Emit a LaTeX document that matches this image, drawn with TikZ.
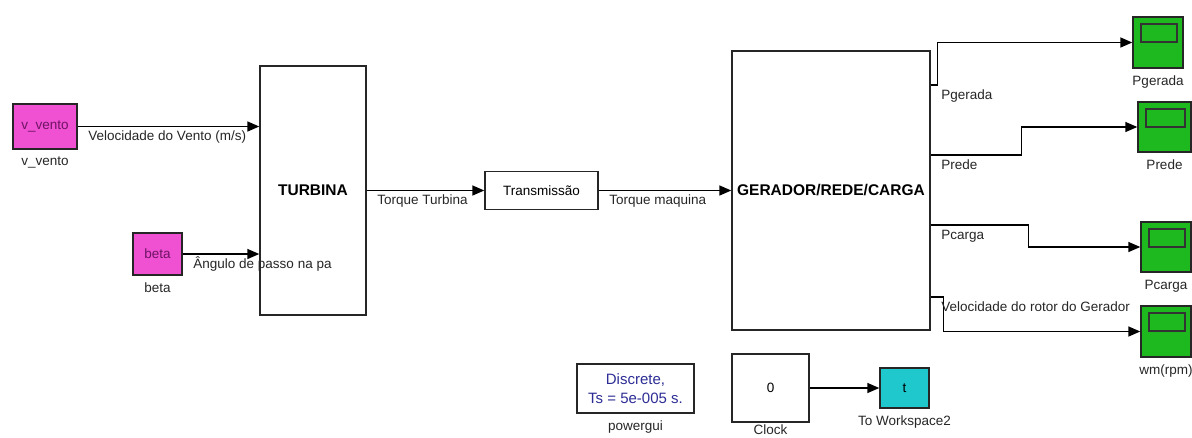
\documentclass[tikz,border=0pt]{standalone}
\usepackage{fontspec}
\setmainfont{Liberation Sans}
\usetikzlibrary{arrows.meta}
\definecolor{srcpink}{RGB}{240,80,210}
\definecolor{srcdark}{RGB}{110,20,100}
\definecolor{scopegreen}{RGB}{30,185,30}
\definecolor{wscyan}{RGB}{30,200,205}
\definecolor{guiblue}{RGB}{45,45,150}
\tikzset{
  blk/.style={draw=black!85, line width=1.4pt, fill=white, inner sep=0pt, font=\fontsize{13.5}{16}\selectfont},
  big/.style={blk, font=\bfseries\fontsize{15.5}{18}\selectfont},
  src/.style={blk, fill=srcpink, text=srcdark},
  scope/.style={blk, fill=scopegreen, minimum width=50pt, minimum height=51pt,
    path picture={\draw[line width=1.2pt, black!80]
      ([xshift=8pt,yshift=-7pt]path picture bounding box.north west) rectangle
      ([xshift=-6pt,yshift=-25pt]path picture bounding box.north east);}},
  lbl/.style={font=\fontsize{13.5}{15}\selectfont, inner sep=0pt, text=black!85},
  btm/.style={label={[lbl, label distance=7pt]below:#1}},
  elbl/.style={lbl, pos=0, anchor=base west, xshift=10pt, yshift=-14pt},
  sig/.style={draw=black, line width=1.5pt, -{Triangle[length=12pt,width=10pt]}}
}
\begin{document}
\begin{tikzpicture}[x=1pt, y=-1pt]
  \useasboundingbox (0,0) rectangle (1192,437);
  \clip (0,0) rectangle (1192,437);

  % sources and turbine
  \node[src, minimum width=64pt, minimum height=45pt, btm={v\_vento}] (vvento) at (45,126.5) {v\_vento};
  \node[src, minimum width=49pt, minimum height=42pt, btm={beta}] (beta) at (157.5,254) {beta};
  \node[big, minimum width=106pt, minimum height=249pt] (turbina) at (313,190.5) {TURBINA};
  \node[blk, minimum width=113pt, minimum height=38pt] (trans) at (541.5,190.5) {Transmissão};
  \node[big, minimum width=198pt, minimum height=279pt] (gerador) at (831,190.5) {GERADOR/REDE/CARGA};

  % scopes
  \node[scope, btm={Pgerada}] (pgerada) at (1158,42.5) {};
  \node[scope, minimum width=53pt, minimum height=50pt, btm={Prede}] (prede) at (1164.5,127) {};
  \node[scope, minimum height=50pt, btm={Pcarga}] (pcarga) at (1166,247) {};
  \node[scope, btm={wm(rpm)}] (wm) at (1166,331.5) {};

  % bottom row
  \node[blk, minimum width=117pt, minimum height=49pt, align=center, text=guiblue,
    font=\fontsize{15}{19}\selectfont, btm={powergui}] (powergui) at (635.5,388.5) {Discrete,\\Ts = 5e-005 s.};
  \node[blk, minimum width=77pt, minimum height=68pt,
    label={[lbl, label distance=2pt]below:Clock}] (clock) at (770.5,388) {0};
  \node[blk, fill=wscyan, minimum width=49pt, minimum height=40pt, btm={To Workspace2}] (tows) at (904.5,388) {t};

  % output ports of the generator block
  \coordinate (outA) at ([yshift=105.5pt]gerador.east);
  \coordinate (outB) at ([yshift=35.5pt]gerador.east);
  \coordinate (outC) at ([yshift=-34.5pt]gerador.east);
  \coordinate (outD) at ([yshift=-106.5pt]gerador.east);

  % signals
  \draw[sig] (vvento.east) -- node[elbl]{Velocidade do Vento (m/s)} (vvento.east -| turbina.west);
  \draw[sig] (beta.east) -- node[elbl]{Ângulo de passo na pa} (beta.east -| turbina.west);
  \draw[sig] (turbina.east) -- node[elbl]{Torque Turbina} (trans.west);
  \draw[sig] (trans.east) -- node[elbl]{Torque maquina} (gerador.west);
  \draw[sig] (outA) -- node[elbl]{Pgerada} ++(7,0) |- (pgerada.west);
  \draw[sig] (outB) -- node[elbl]{Prede} ++(91,0) |- (prede.west);
  \draw[sig] (outC) -- node[elbl]{Pcarga} ++(98,0) |- (pcarga.west);
  \draw[sig] (outD) -- node[elbl]{Velocidade do rotor do Gerador} ++(13,0) |- (wm.west);
  \draw[sig] (clock.east) -- (tows.west);
\end{tikzpicture}
\end{document}
